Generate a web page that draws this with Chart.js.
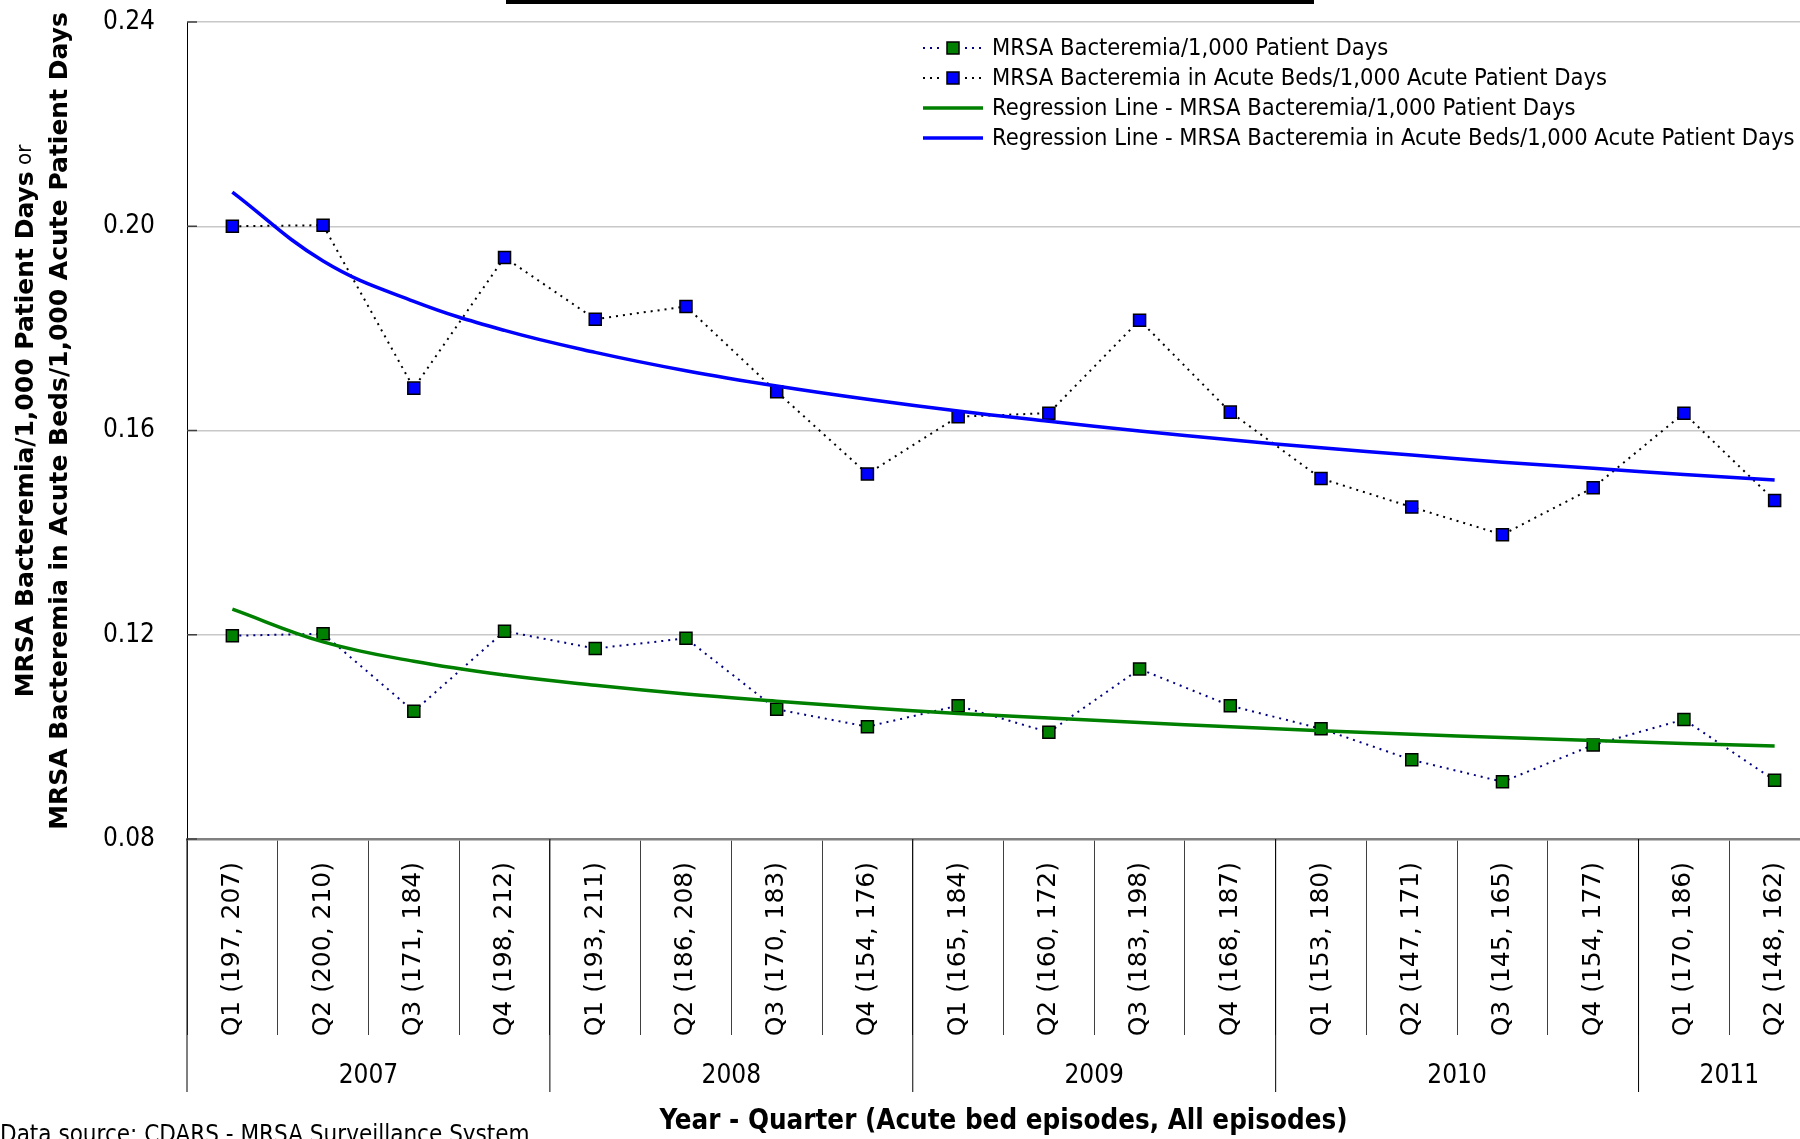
<!DOCTYPE html>
<html>
<head>
<meta charset="utf-8">
<script src="https://cdn.jsdelivr.net/npm/chart.js@4.4.1/dist/chart.umd.min.js"></script>
<style>
html, body { margin: 0; padding: 0; background: #fff; overflow: hidden; }
#wrap { position: relative; width: 1830px; height: 1139px; }
#titlebar { position: absolute; left: 506px; top: 0; width: 808px; height: 4px; background: #000; }
#source { position: absolute; left: 0; top: 1122px; font: 24px 'DejaVu Sans Condensed', 'DejaVu Sans', sans-serif; white-space: nowrap; line-height: 1; }
</style>
</head>
<body>
<div id="wrap">
  <canvas id="mrsachart"></canvas>
  <div id="titlebar"></div>
  <div id="source">Data source: CDARS - MRSA Surveillance System</div>
</div>
<script>
var quarters = ['Q1 (197, 207)', 'Q2 (200, 210)', 'Q3 (171, 184)', 'Q4 (198, 212)',
                'Q1 (193, 211)', 'Q2 (186, 208)', 'Q3 (170, 183)', 'Q4 (154, 176)',
                'Q1 (165, 184)', 'Q2 (160, 172)', 'Q3 (183, 198)', 'Q4 (168, 187)',
                'Q1 (153, 180)', 'Q2 (147, 171)', 'Q3 (145, 165)', 'Q4 (154, 177)',
                'Q1 (170, 186)', 'Q2 (148, 162)'];
var years = ['2007', '2008', '2009', '2010', '2011'];
var yearSpan = [4, 4, 4, 4, 2];

var allRate = [0.1198, 0.1202, 0.1050, 0.1207, 0.1173, 0.1193, 0.1054, 0.1020, 0.1061,
               0.1009, 0.1133, 0.1061, 0.1016, 0.0955, 0.0912, 0.0984, 0.1034, 0.0915];
var acuteRate = [0.2000, 0.2002, 0.1683, 0.1939, 0.1818, 0.1843, 0.1676, 0.1515, 0.1627,
                 0.1634, 0.1816, 0.1636, 0.1506, 0.1450, 0.1396, 0.1488, 0.1634, 0.1463];
var allTrend = [0.1250, 0.1186, 0.1148, 0.1121, 0.1101, 0.1084, 0.1070, 0.1057, 0.1046,
                0.1037, 0.1028, 0.1020, 0.1012, 0.1005, 0.0999, 0.0993, 0.0987, 0.0982];
var acuteTrend = [0.2067, 0.1932, 0.1853, 0.1796, 0.1753, 0.1717, 0.1687, 0.1661, 0.1638,
                  0.1618, 0.1599, 0.1582, 0.1566, 0.1552, 0.1538, 0.1526, 0.1514, 0.1503];

var condensed = "'DejaVu Sans Condensed', 'DejaVu Sans', sans-serif";
Chart.defaults.font.family = condensed;
Chart.defaults.color = '#000';

function noPadding(s) {
    s.paddingTop = 0;
    s.paddingBottom = 0;
    s.paddingLeft = 0;
    s.paddingRight = 0;
}

// year row, inside ticks, y title and legend
var extras = {
    id: 'extras',
    afterDraw: function(chart) {
        var ctx = chart.ctx;
        var xs = chart.scales.x, ys = chart.scales.y, area = chart.chartArea;
        var w = (xs.right - xs.left) / quarters.length;
        ctx.save();

        ctx.strokeStyle = '#404040';
        ctx.lineWidth = 1.5;
        ys.ticks.forEach(function(t) {
            var py = ys.getPixelForValue(t.value);
            ctx.beginPath();
            ctx.moveTo(area.left, py);
            ctx.lineTo(area.left + 10, py);
            ctx.stroke();
        });

        ctx.strokeStyle = '#000';
        ctx.lineWidth = 1;
        ctx.fillStyle = '#000';
        ctx.font = '26px ' + condensed;
        ctx.textAlign = 'center';
        ctx.textBaseline = 'middle';
        var start = 0;
        years.forEach(function(yr, i) {
            var x0 = xs.getPixelForValue(start) - w / 2;
            ctx.beginPath();
            ctx.moveTo(x0, area.bottom);
            ctx.lineTo(x0, area.bottom + 253);
            ctx.stroke();
            ctx.fillText(yr, xs.getPixelForValue(start + (yearSpan[i] - 1) / 2), area.bottom + 237);
            start += yearSpan[i];
        });

        // y axis title, two rotated lines
        var boldFont = "bold 25px 'DejaVu Sans', sans-serif";
        var orFont = '22px ' + condensed;
        var line1 = 'MRSA Bacteremia/1,000 Patient Days';
        var line2 = 'MRSA Bacteremia in Acute Beds/1,000 Acute Patient Days';
        ctx.translate(0, 421);
        ctx.rotate(-Math.PI / 2);
        ctx.font = boldFont;
        var w1 = ctx.measureText(line1).width;
        ctx.font = orFont;
        var wOr = ctx.measureText(' or').width;
        ctx.textAlign = 'left';
        ctx.font = boldFont;
        ctx.fillText(line1, -(w1 + wOr) / 2, 26);
        ctx.font = orFont;
        ctx.fillText(' or', -(w1 + wOr) / 2 + w1, 25);
        ctx.font = boldFont;
        ctx.textAlign = 'center';
        ctx.fillText(line2, 0, 60);
        ctx.setTransform(1, 0, 0, 1, 0, 0);

        // legend
        var lx = 923, ly = 48;
        ctx.font = '23.5px ' + condensed;
        ctx.textAlign = 'left';
        chart.data.datasets.forEach(function(ds, i) {
            var yy = ly + i * 30;
            ctx.setLineDash(ds.borderDash || []);
            ctx.strokeStyle = ds.borderColor;
            ctx.lineWidth = ds.borderWidth;
            ctx.beginPath();
            ctx.moveTo(lx, yy);
            ctx.lineTo(lx + 60, yy);
            ctx.stroke();
            ctx.setLineDash([]);
            if (ds.pointRadius > 0) {
                ctx.fillStyle = '#fff';
                ctx.fillRect(lx + 21, yy - 8, 18, 16);
                ctx.fillStyle = ds.pointBackgroundColor;
                ctx.fillRect(lx + 24, yy - 6, 12, 12);
                ctx.strokeStyle = ds.pointBorderColor;
                ctx.lineWidth = 1.5;
                ctx.strokeRect(lx + 24, yy - 6, 12, 12);
            }
            ctx.fillStyle = '#000';
            ctx.fillText(ds.label, lx + 69, yy + 1);
        });
        ctx.restore();
    }
};

var mrsactx = document.getElementById('mrsachart').getContext('2d');
var mrsachart = new Chart(mrsactx, {
    type: 'line',
    data: {
        labels: quarters,
        datasets: [{
            label: 'MRSA Bacteremia/1,000 Patient Days',
            data: allRate,
            borderColor: '#000080',
            borderWidth: 2,
            borderDash: [2, 5],
            pointStyle: 'rect',
            pointRadius: 8.5,
            pointBackgroundColor: '#008000',
            pointBorderColor: '#000',
            pointBorderWidth: 1.5,
            order: 1
        }, {
            label: 'MRSA Bacteremia in Acute Beds/1,000 Acute Patient Days',
            data: acuteRate,
            borderColor: '#000',
            borderWidth: 2,
            borderDash: [2, 5],
            pointStyle: 'rect',
            pointRadius: 8.5,
            pointBackgroundColor: '#0000ff',
            pointBorderColor: '#000',
            pointBorderWidth: 1.5,
            order: 1
        }, {
            label: 'Regression Line - MRSA Bacteremia/1,000 Patient Days',
            data: allTrend,
            borderColor: '#008000',
            borderWidth: 3.5,
            pointRadius: 0,
            tension: 0.4,
            order: 0
        }, {
            label: 'Regression Line - MRSA Bacteremia in Acute Beds/1,000 Acute Patient Days',
            data: acuteTrend,
            borderColor: '#0000ff',
            borderWidth: 3.5,
            pointRadius: 0,
            tension: 0.4,
            order: 0
        }]
    },
    options: {
        responsive: true,
        maintainAspectRatio: false,
        animation: false,
        layout: { padding: { left: 80, right: 5, top: 22, bottom: 0 } },
        plugins: {
            legend: { display: false },
            tooltip: { enabled: false }
        },
        scales: {
            x: {
                type: 'category',
                offset: true,
                grid: { display: true, offset: true, drawOnChartArea: false, drawTicks: true,
                        tickLength: 196, color: '#404040', lineWidth: 1 },
                border: { display: true, color: '#808080', width: 2.5 },
                ticks: { autoSkip: false, minRotation: 90, maxRotation: 90, padding: -173,
                         font: { family: "'DejaVu Sans', sans-serif", size: 25 } },
                title: { display: true, text: 'Year - Quarter (Acute bed episodes, All episodes)',
                         font: { size: 27.5, weight: 'bold' }, padding: { top: 0, bottom: 1 } },
                afterFit: function(s) { s.height = 300; noPadding(s); }
            },
            y: {
                min: 0.08,
                max: 0.24,
                ticks: { stepSize: 0.04, padding: 32, font: { size: 26 },
                         callback: function(v) { return v.toFixed(2); } },
                grid: { drawTicks: false, lineWidth: 1.5,
                        color: function(c) { return c.tick && c.tick.value < 0.09 ? 'rgba(0,0,0,0)' : '#c8c8c8'; } },
                border: { display: true, color: '#000', width: 1 },
                afterFit: function(s) { s.width = 107; noPadding(s); }
            }
        }
    },
    plugins: [extras]
});
</script>
</body>
</html>
